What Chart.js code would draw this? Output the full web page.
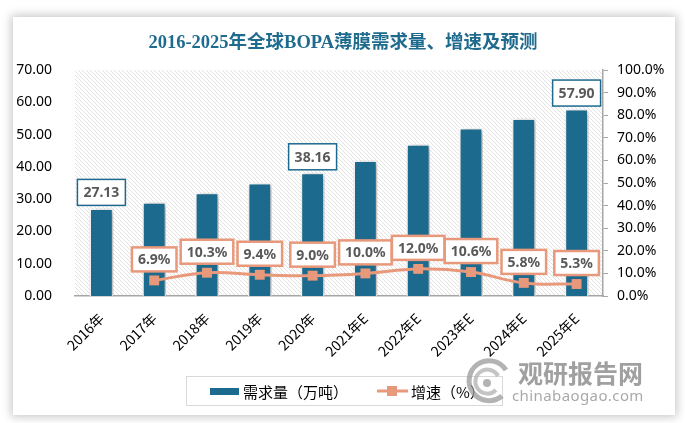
<!DOCTYPE html>
<html>
<head>
<meta charset="utf-8">
<script src="https://cdn.jsdelivr.net/npm/chart.js@4.4.1/dist/chart.umd.min.js"></script>
<style>
html, body { margin: 0; padding: 0; background: #fff; }
#wrap { position: relative; width: 685px; height: 423px; overflow: hidden; }
#card { position: absolute; left: 13px; top: 17px; width: 662px; height: 398px; background: #fff; box-shadow: 0 0 9px 2px rgba(0,0,0,0.22); }
#chart { position: absolute; left: 0; top: 0; }
#wm { position: absolute; left: 462px; top: 352px; opacity: 0.75; pointer-events: none; }
#wm .cn { position: absolute; left: 56px; top: 2px; font: bold 25px "Noto Sans CJK SC", sans-serif; color: #808080; white-space: nowrap; letter-spacing: 0px; }
#wm .en { position: absolute; left: 50px; top: 33px; font: 15px "Noto Sans", sans-serif; color: #8c8c8c; white-space: nowrap; letter-spacing: 0.4px; }
#wm svg { position: absolute; left: 0; top: 4px; }
</style>
</head>
<body>
<div id="wrap">
  <div id="card"></div>
  <canvas id="chart" width="685" height="423"></canvas>
  <div id="wm">
    <svg width="50" height="50" viewBox="0 0 50 50">
      <path d="M44 14 A20 20 0 1 0 40 40" fill="none" stroke="#9a9a9a" stroke-width="5"/>
      <path d="M36 20 A12 12 0 1 0 34 34" fill="none" stroke="#b0b0b0" stroke-width="4"/>
      <circle cx="25" cy="27" r="4" fill="#9a9a9a"/>
    </svg>
    <div class="cn">观研报告网</div>
    <div class="en">chinabaogao.com</div>
  </div>
</div>
<script>
// 数据
const years = ['2016年', '2017年', '2018年', '2019年', '2020年', '2021年E', '2022年E', '2023年E', '2024年E', '2025年E'];
const demand = [27.13, 29.00, 32.00, 35.00, 38.16, 41.98, 47.01, 52.00, 55.01, 57.90];
const growth = [null, 6.9, 10.3, 9.4, 9.0, 10.0, 12.0, 10.6, 5.8, 5.3];
const demandLabelIdx = [0, 4, 9];
const seriesNames = ['需求量（万吨）', '增速（%）'];
const chartTitle = '2016-2025年全球BOPA薄膜需求量、增速及预测';

const barColor = '#1c6a8e';
const lineColor = '#e8997b';
const labelText = '#595959';

// 斜线底纹
function makeHatch() {
    const c = document.createElement('canvas');
    c.width = 4; c.height = 4;
    const g = c.getContext('2d');
    g.fillStyle = '#ffffff';
    g.fillRect(0, 0, 4, 4);
    g.strokeStyle = '#e2e2e2';
    g.lineWidth = 1;
    g.beginPath();
    g.moveTo(0, 0); g.lineTo(4, 4);
    g.moveTo(-1, 3); g.lineTo(1, 5);
    g.moveTo(3, -1); g.lineTo(5, 1);
    g.stroke();
    return c;
}

const hatchPlugin = {
    id: 'hatch',
    beforeDraw(chart) {
        const { ctx, chartArea: a } = chart;
        ctx.save();
        ctx.fillStyle = ctx.createPattern(makeHatch(), 'repeat');
        ctx.fillRect(a.left, a.top, a.right - a.left, a.bottom - a.top);
        ctx.restore();
    }
};

const shadowPlugin = {
    id: 'barShadow',
    beforeDatasetDraw(chart, args) {
        if (args.index !== 0) return;
        const ctx = chart.ctx;
        ctx.save();
        ctx.shadowColor = 'rgba(0,0,0,0.35)';
        ctx.shadowBlur = 6;
        ctx.shadowOffsetX = 2;
        ctx.shadowOffsetY = 1;
    },
    afterDatasetDraw(chart, args) {
        if (args.index !== 0) return;
        chart.ctx.restore();
    }
};

function boxLabel(ctx, text, cx, cy, border, lw, h) {
    ctx.font = 'bold 14px "Noto Sans", sans-serif';
    const w = ctx.measureText(text).width + 12;
    ctx.fillStyle = '#ffffff';
    ctx.fillRect(cx - w / 2, cy - h / 2, w, h);
    ctx.strokeStyle = border;
    ctx.lineWidth = lw;
    ctx.strokeRect(cx - w / 2, cy - h / 2, w, h);
    ctx.fillStyle = labelText;
    ctx.textAlign = 'center';
    ctx.textBaseline = 'middle';
    ctx.fillText(text, cx, cy + 1);
}

const labelPlugin = {
    id: 'labels',
    afterDatasetsDraw(chart) {
        const ctx = chart.ctx;
        ctx.save();
        const bars = chart.getDatasetMeta(0).data;
        demandLabelIdx.forEach(i => {
            const b = bars[i];
            boxLabel(ctx, demand[i].toFixed(2), b.x, b.y - 16, barColor, 1.5, 26);
        });
        const pts = chart.getDatasetMeta(1).data;
        growth.forEach((v, i) => {
            if (v === null) return;
            const p = pts[i];
            boxLabel(ctx, v.toFixed(1) + '%', p.x, p.y - 21, lineColor, 2.5, 24);
        });
        ctx.restore();
    }
};

const titleLegendPlugin = {
    id: 'titleLegend',
    afterDraw(chart) {
        const ctx = chart.ctx;
        ctx.save();
        // 标题
        ctx.font = 'bold 18.5px "Liberation Serif", "Noto Sans CJK SC", serif';
        ctx.fillStyle = '#1f6b8e';
        ctx.textAlign = 'center';
        ctx.textBaseline = 'middle';
        ctx.fillText(chartTitle, 343, 43);
        // 图例
        ctx.strokeStyle = '#d9d9d9';
        ctx.lineWidth = 1;
        ctx.strokeRect(186.5, 376.5, 316, 29);
        ctx.fillStyle = barColor;
        ctx.fillRect(210, 388, 29, 7);
        ctx.font = '15px "Noto Sans CJK SC", sans-serif';
        ctx.fillStyle = '#000';
        ctx.textAlign = 'left';
        ctx.fillText(seriesNames[0], 243, 392);
        ctx.strokeStyle = lineColor;
        ctx.lineWidth = 3;
        ctx.beginPath();
        ctx.moveTo(377, 391); ctx.lineTo(408, 391);
        ctx.stroke();
        ctx.fillStyle = lineColor;
        ctx.fillRect(387, 386, 10, 10);
        ctx.fillStyle = '#000';
        ctx.fillText(seriesNames[1], 411, 392);
        ctx.restore();
    }
};

new Chart(document.getElementById('chart'), {
    data: {
        labels: years,
        datasets: [
            {
                type: 'bar',
                label: seriesNames[0],
                data: demand,
                yAxisID: 'y',
                backgroundColor: barColor,
                borderColor: '#ffffff',
                borderWidth: 1.5,
                barPercentage: 0.45,
                categoryPercentage: 1,
                order: 2
            },
            {
                type: 'line',
                label: seriesNames[1],
                data: growth,
                yAxisID: 'y1',
                borderColor: lineColor,
                backgroundColor: lineColor,
                borderWidth: 3,
                tension: 0.4,
                pointStyle: 'rect',
                pointRadius: 7,
                pointBorderWidth: 0,
                order: 1
            }
        ]
    },
    options: {
        responsive: false,
        animation: false,
        devicePixelRatio: 1,
        layout: { padding: { left: 0, right: 0, top: 70, bottom: 0 } },
        plugins: {
            legend: { display: false },
            title: { display: false },
            tooltip: { enabled: false }
        },
        scales: {
            x: {
                grid: { display: false },
                border: { display: true, color: '#a6a6a6', width: 1.5 },
                ticks: {
                    color: '#000',
                    font: { size: 14, family: '"Noto Sans CJK SC", sans-serif' },
                    maxRotation: 45, minRotation: 45, padding: 6
                },
                afterFit(s) { s.height = 127; }
            },
            y: {
                position: 'left',
                min: 0, max: 70,
                grid: { display: false },
                border: { display: false },
                ticks: {
                    stepSize: 10,
                    color: '#000',
                    padding: 15,
                    font: { size: 14, family: '"Noto Sans", sans-serif' },
                    callback: v => v.toFixed(2)
                },
                afterFit(s) { s.width = 75; }
            },
            y1: {
                position: 'right',
                min: 0, max: 100,
                grid: { display: true, drawOnChartArea: false, drawTicks: true, tickLength: 5, color: '#a6a6a6' },
                border: { display: true, color: '#a6a6a6', width: 1.5 },
                ticks: {
                    stepSize: 10,
                    color: '#000',
                    padding: 9,
                    font: { size: 14, family: '"Noto Sans", sans-serif' },
                    callback: v => v.toFixed(1) + '%'
                },
                afterFit(s) { s.width = 82; }
            }
        }
    },
    plugins: [hatchPlugin, shadowPlugin, labelPlugin, titleLegendPlugin]
});
</script>
</body>
</html>
